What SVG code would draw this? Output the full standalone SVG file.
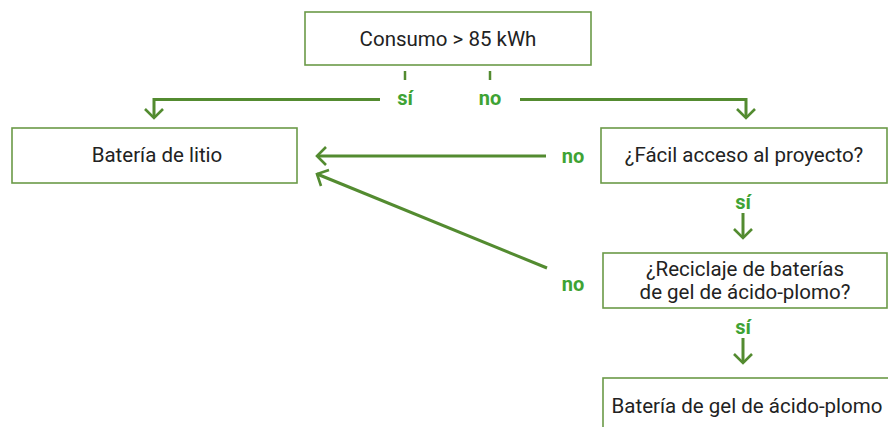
<svg xmlns="http://www.w3.org/2000/svg" width="888" height="427" viewBox="0 0 888 427">
<style>
.box{fill:#fff;stroke:#6b9a48;stroke-width:1.6}
.t{font-family:Roboto,"Liberation Sans",sans-serif;font-size:20.5px;fill:#222;text-anchor:middle}
.lbl{font-family:Roboto,"Liberation Sans",sans-serif;font-size:20px;font-weight:bold;fill:#3ea334;text-anchor:middle}
.c{fill:none;stroke:#538b30;stroke-width:3;stroke-linejoin:miter}
.h{fill:none;stroke:#538b30;stroke-width:2.6}
.tick{stroke:#538b30;stroke-width:2.5}
</style>
<rect width="888" height="427" fill="#fff"/>
<g id="n1"><rect class="box" x="305" y="12" width="286" height="53"/><text class="t" x="448" y="46">Consumo &gt; 85 kWh</text></g>
<g id="n2"><rect class="box" x="12" y="128" width="285" height="55"/><text class="t" x="157" y="162">Batería de litio</text></g>
<g id="n3"><rect class="box" x="601" y="128" width="286" height="55"/><text class="t" x="744" y="162">¿Fácil acceso al proyecto?</text></g>
<g id="n4"><rect class="box" x="603" y="253" width="284" height="55"/><text class="t" x="745" y="276">¿Reciclaje de baterías</text><text class="t" x="745" y="299">de gel de ácido-plomo?</text></g>
<g id="n5"><rect class="box" x="603" y="378" width="290" height="60"/><text class="t" x="747" y="413">Batería de gel de ácido-plomo</text></g>
<g id="connectors">
<line class="tick" x1="405" y1="71" x2="405" y2="80"/>
<line class="tick" x1="490" y1="71" x2="490" y2="80"/>
<polyline class="c" points="380,99.5 154,99.5 154,118"/>
<polyline class="h" points="145,109 154,118 163,109"/>
<polyline class="c" points="520,99.5 746,99.5 746,118"/>
<polyline class="h" points="737,109 746,118 755,109"/>
<line class="c" x1="546" y1="156" x2="317" y2="156"/>
<polyline class="h" points="326,147 317,156 326,165"/>
<line class="c" x1="547" y1="268" x2="317" y2="174"/>
<polyline class="h" points="329,170 317,174 321,186"/>
<line class="c" x1="743" y1="213" x2="743" y2="238"/>
<polyline class="h" points="734,229 743,238 752,229"/>
<line class="c" x1="743" y1="338" x2="743" y2="363"/>
<polyline class="h" points="734,354 743,363 752,354"/>
<text class="lbl" x="405" y="105">sí</text>
<text class="lbl" x="490" y="105">no</text>
<text class="lbl" x="573" y="163">no</text>
<text class="lbl" x="743" y="209">sí</text>
<text class="lbl" x="573" y="291">no</text>
<text class="lbl" x="743" y="334">sí</text>
</g>
</svg>
